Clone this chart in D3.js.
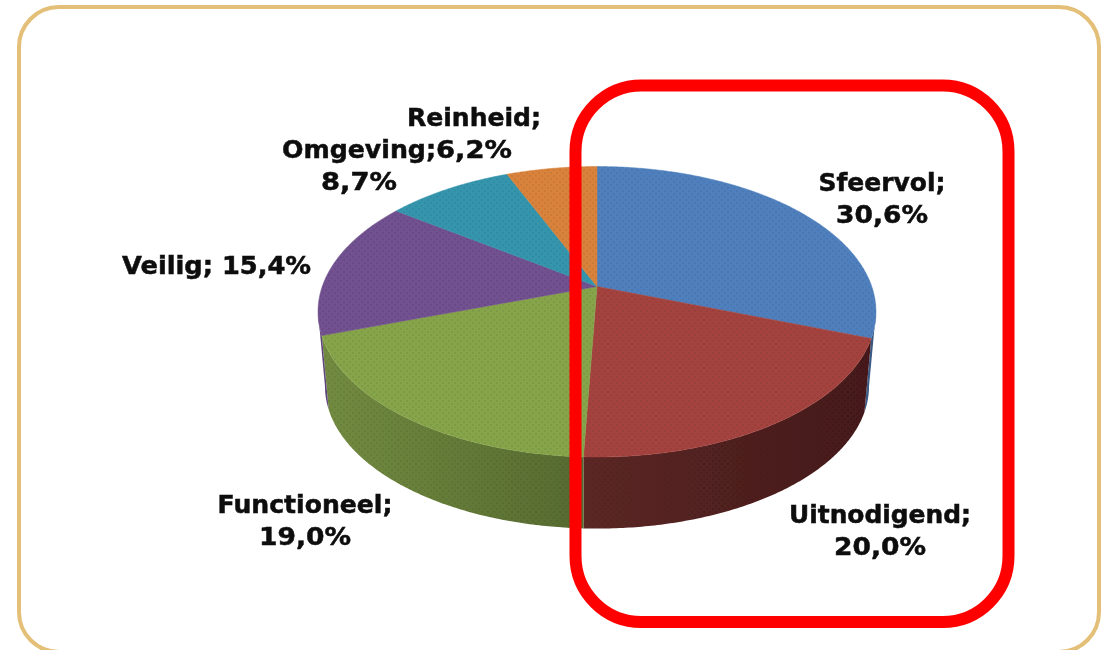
<!DOCTYPE html>
<html>
<head>
<meta charset="utf-8">
<script src="https://cdn.jsdelivr.net/npm/d3@7/dist/d3.min.js"></script>
<style>
html,body{margin:0;padding:0;background:#fff;overflow:hidden}
svg{display:block}
text{font-family:"DejaVu Sans",sans-serif;font-weight:700;fill:#0c0c0c;stroke:#0c0c0c;stroke-width:0.5}
</style>
</head>
<body>
<svg id="chart" width="1109" height="650"></svg>
<script>
const categories = ["Sfeervol", "Uitnodigend", "Functioneel", "Veilig", "Omgeving", "Reinheid"];
const values = [30.6, 20.0, 19.0, 15.4, 8.7, 6.2];
const topColors = ["#4f80bd", "#a4433f", "#86a449", "#71518f", "#3595ad", "#d9823a"];
const wallColorsNear = ["#3a5a85", "#45191a", "#728b40", "#5f4479", "#2a7a8e", "#b06a2e"];
const wallColorsFar = ["#3a5a85", "#5c2725", "#566a30", "#5f4479", "#2a7a8e", "#b06a2e"];

// label placement: centre x, first baseline, whether name and value share a line, line widths
const labelLayout = [
  {x: 882, y: 191, widths: [127, 92]},
  {x: 880, y: 523, widths: [182, 92]},
  {x: 305, y: 513, widths: [175, 92]},
  {x: 216.5, y: 274, inline: true, widths: [189]},
  {x: 359, y: 158, widths: [154, 76]},
  {x: 474, y: 126, widths: [134, 76]}
];
const lineGap = 32;

const svg = d3.select("#chart");
const defs = svg.append("defs");

// geometry of the tilted disc
const cx = 597, apexY = 286.5;
const farRadius = 120, nearRadius = 170.5, halfWidth = 279;
const k = -(nearRadius - farRadius) / (nearRadius + farRadius);
const a = farRadius * (1 - k);
const b = halfWidth * Math.sqrt(1 - k * k);
const depth = 75, shrinkX = 0.975, shrinkY = 0.98;
const xScale = d3.scaleLinear().domain([-1, 1]).range([cx - b, cx + b]);
const yScale = d3.scaleLinear().domain([-1, 1]).range([apexY - a, apexY + a]);

function project(t, h) {
  const ux = Math.sin(t), uy = -Math.cos(t), w = 1 + k * uy;
  const sx = 1 - (1 - shrinkX) * h, sy = 1 - (1 - shrinkY) * h;
  return [cx + (xScale(ux / w) - cx) * sx, apexY + (yScale(uy / w) - apexY) * sy + depth * h];
}
function samples(t0, t1) {
  const n = Math.max(2, Math.ceil(Math.abs(t1 - t0) / 0.01));
  return d3.range(n + 1).map(i => t0 + (t1 - t0) * i / n);
}
const line = d3.line();

const pie = d3.pie().sort(null).value(d => d)(values);

defs.append("filter").attr("id", "soft").attr("x", "-5%").attr("y", "-5%").attr("width", "110%").attr("height", "110%")
  .append("feGaussianBlur").attr("stdDeviation", 0.7);
defs.append("filter").attr("id", "softText").attr("x", "-5%").attr("y", "-20%").attr("width", "110%").attr("height", "140%")
  .append("feGaussianBlur").attr("stdDeviation", 0.45);
const pat = defs.append("pattern").attr("id", "stipple").attr("patternUnits", "userSpaceOnUse").attr("width", 6).attr("height", 6);
pat.append("rect").attr("x", 1).attr("y", 1).attr("width", 2).attr("height", 2).attr("fill", "#000").attr("opacity", 0.06);
pat.append("rect").attr("x", 4).attr("y", 4).attr("width", 2).attr("height", 2).attr("fill", "#000").attr("opacity", 0.06);

// outer frame
svg.append("rect").attr("x", 19).attr("y", 7).attr("width", 1080).attr("height", 645).attr("rx", 40)
  .attr("fill", "#fff").attr("stroke", "#e3bf77").attr("stroke-width", 4);

const pieG = svg.append("g").attr("filter", "url(#soft)");

// visible outer wall lies between these two angles
const wallStart = Math.acos(k), wallEnd = 2 * Math.PI - wallStart;

pie.forEach((s, i) => {
  const t0 = Math.max(s.startAngle, wallStart), t1 = Math.min(s.endAngle, wallEnd);
  if (t1 <= t0) return;
  const ts = samples(t0, t1);
  const pts = ts.map(t => project(t, 0)).concat(ts.slice().reverse().map(t => project(t, 1)));
  const xs = pts.map(p => p[0]);
  const near = i === 2 ? d3.min(xs) : d3.max(xs), far = i === 2 ? d3.max(xs) : d3.min(xs);
  const id = "wall" + i;
  const g = defs.append("linearGradient").attr("id", id).attr("gradientUnits", "userSpaceOnUse")
    .attr("x1", near).attr("x2", far).attr("y1", 0).attr("y2", 0);
  g.append("stop").attr("offset", 0).attr("stop-color", wallColorsNear[i]);
  g.append("stop").attr("offset", 1).attr("stop-color", wallColorsFar[i]);
  pieG.append("path").attr("d", line(pts) + "Z").attr("fill", `url(#${id})`);
  pieG.append("path").attr("d", line(pts) + "Z").attr("fill", "url(#stipple)");
});

pie.forEach((s, i) => {
  const pts = [[cx, apexY]].concat(samples(s.startAngle, s.endAngle).map(t => project(t, 0)));
  pieG.append("path").attr("d", line(pts) + "Z").attr("fill", topColors[i]).attr("stroke", topColors[i]).attr("stroke-width", 0.5);
  pieG.append("path").attr("d", line(pts) + "Z").attr("fill", "url(#stipple)");
});

// labels
const fmt = v => v.toFixed(1).replace(".", ",") + "%";
const labels = svg.append("g").attr("filter", "url(#softText)");
categories.forEach((c, i) => {
  const L = labelLayout[i];
  const lines = L.inline ? [`${c}; ${fmt(values[i])}`] : [`${c};`, fmt(values[i])];
  lines.forEach((txt, j) => {
    labels.append("text").attr("x", L.x).attr("y", L.y + j * lineGap)
      .attr("text-anchor", "middle").attr("font-size", 24)
      .attr("textLength", L.widths[j]).attr("lengthAdjust", "spacingAndGlyphs").text(txt);
  });
});

// red highlight
svg.append("rect").attr("x", 575.5).attr("y", 85.5).attr("width", 433).attr("height", 536.5).attr("rx", 66)
  .attr("fill", "none").attr("stroke", "#fe0000").attr("stroke-width", 12);
</script>
</body>
</html>
